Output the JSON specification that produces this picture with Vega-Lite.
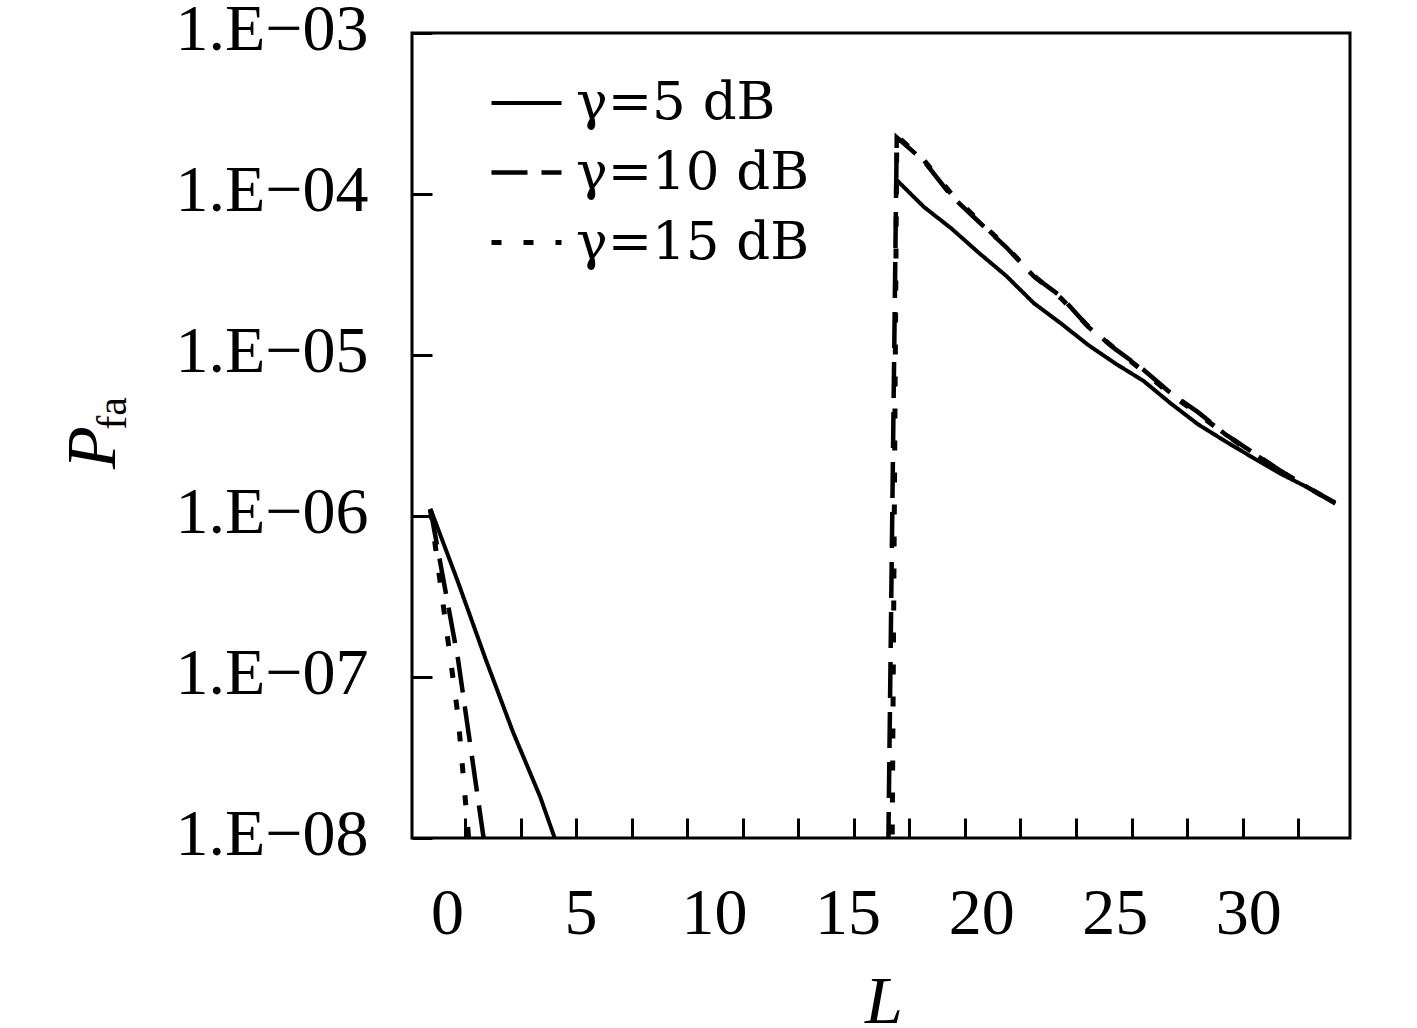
{
  "$schema": "https://vega.github.io/schema/vega-lite/v6.json",
  "width": 938,
  "height": 805,
  "autosize": {"type": "none"},
  "padding": {"left": 412, "top": 33, "right": 67, "bottom": 190},
  "background": "white",
  "config": {
    "view": {"stroke": "black", "strokeWidth": 3},
    "axis": {"grid": false, "domain": false, "labelFlush": false, "labelOverlap": false, "labelLimit": 400,
             "tickColor": "black", "tickWidth": 3, "labelColor": "black", "titleColor": "black"}
  },
  "data": {"values": [
    {"L": -0.62, "g": "γ=5 dB", "seg": "a", "p": 1.11e-6},
    {"L": 0.41, "g": "γ=5 dB", "seg": "a", "p": 3.9e-7},
    {"L": 1.44, "g": "γ=5 dB", "seg": "a", "p": 1.3e-7},
    {"L": 2.46, "g": "γ=5 dB", "seg": "a", "p": 4.6e-8},
    {"L": 3.49, "g": "γ=5 dB", "seg": "a", "p": 1.8e-8},
    {"L": 4.52, "g": "γ=5 dB", "seg": "a", "p": 5.9e-9},
    {"L": 16.84, "g": "γ=5 dB", "seg": "b", "p": 1.22e-4},
    {"L": 17.86, "g": "γ=5 dB", "seg": "b", "p": 8.3e-5},
    {"L": 18.89, "g": "γ=5 dB", "seg": "b", "p": 6.1e-5},
    {"L": 19.92, "g": "γ=5 dB", "seg": "b", "p": 4.3e-5},
    {"L": 20.94, "g": "γ=5 dB", "seg": "b", "p": 3.1e-5},
    {"L": 21.97, "g": "γ=5 dB", "seg": "b", "p": 2.1e-5},
    {"L": 22.99, "g": "γ=5 dB", "seg": "b", "p": 1.57e-5},
    {"L": 24.02, "g": "γ=5 dB", "seg": "b", "p": 1.15e-5},
    {"L": 25.05, "g": "γ=5 dB", "seg": "b", "p": 8.8e-6},
    {"L": 26.08, "g": "γ=5 dB", "seg": "b", "p": 6.9e-6},
    {"L": 27.10, "g": "γ=5 dB", "seg": "b", "p": 5.0e-6},
    {"L": 28.13, "g": "γ=5 dB", "seg": "b", "p": 3.7e-6},
    {"L": 29.16, "g": "γ=5 dB", "seg": "b", "p": 2.9e-6},
    {"L": 30.18, "g": "γ=5 dB", "seg": "b", "p": 2.3e-6},
    {"L": 31.21, "g": "γ=5 dB", "seg": "b", "p": 1.83e-6},
    {"L": 32.24, "g": "γ=5 dB", "seg": "b", "p": 1.5e-6},
    {"L": 33.26, "g": "γ=5 dB", "seg": "b", "p": 1.19e-6},

    {"L": -0.62, "g": "γ=10 dB", "seg": "a", "p": 1.1e-6},
    {"L": 0.41, "g": "γ=10 dB", "seg": "a", "p": 1.3e-7},
    {"L": 1.44, "g": "γ=10 dB", "seg": "a", "p": 8.3e-9},
    {"L": 2.46, "g": "γ=10 dB", "seg": "a", "p": 1e-18},
    {"L": 3.49, "g": "γ=10 dB", "seg": "a", "p": 1e-18},
    {"L": 4.52, "g": "γ=10 dB", "seg": "a", "p": 1e-18},
    {"L": 5.54, "g": "γ=10 dB", "seg": "a", "p": 1e-18},
    {"L": 6.57, "g": "γ=10 dB", "seg": "a", "p": 1e-18},
    {"L": 7.60, "g": "γ=10 dB", "seg": "a", "p": 1e-18},
    {"L": 8.62, "g": "γ=10 dB", "seg": "a", "p": 1e-18},
    {"L": 9.65, "g": "γ=10 dB", "seg": "a", "p": 1e-18},
    {"L": 10.68, "g": "γ=10 dB", "seg": "a", "p": 1e-18},
    {"L": 11.70, "g": "γ=10 dB", "seg": "a", "p": 1e-18},
    {"L": 12.73, "g": "γ=10 dB", "seg": "a", "p": 1e-18},
    {"L": 13.76, "g": "γ=10 dB", "seg": "a", "p": 1e-18},
    {"L": 14.78, "g": "γ=10 dB", "seg": "a", "p": 1e-18},
    {"L": 15.81, "g": "γ=10 dB", "seg": "a", "p": 1e-18},
    {"L": 16.84, "g": "γ=10 dB", "seg": "a", "p": 2.25e-4},
    {"L": 17.86, "g": "γ=10 dB", "seg": "a", "p": 1.6e-4},
    {"L": 18.89, "g": "γ=10 dB", "seg": "a", "p": 9.7e-5},
    {"L": 19.92, "g": "γ=10 dB", "seg": "a", "p": 6.7e-5},
    {"L": 20.94, "g": "γ=10 dB", "seg": "a", "p": 4.67e-5},
    {"L": 21.97, "g": "γ=10 dB", "seg": "a", "p": 3.08e-5},
    {"L": 22.99, "g": "γ=10 dB", "seg": "a", "p": 2.31e-5},
    {"L": 24.02, "g": "γ=10 dB", "seg": "a", "p": 1.49e-5},
    {"L": 25.05, "g": "γ=10 dB", "seg": "a", "p": 1.08e-5},
    {"L": 26.08, "g": "γ=10 dB", "seg": "a", "p": 8.1e-6},
    {"L": 27.10, "g": "γ=10 dB", "seg": "a", "p": 5.8e-6},
    {"L": 28.13, "g": "γ=10 dB", "seg": "a", "p": 4.4e-6},
    {"L": 29.16, "g": "γ=10 dB", "seg": "a", "p": 3.2e-6},
    {"L": 30.18, "g": "γ=10 dB", "seg": "a", "p": 2.48e-6},
    {"L": 31.21, "g": "γ=10 dB", "seg": "a", "p": 1.91e-6},
    {"L": 32.24, "g": "γ=10 dB", "seg": "a", "p": 1.5e-6},
    {"L": 33.26, "g": "γ=10 dB", "seg": "a", "p": 1.21e-6},

    {"L": -0.62, "g": "γ=15 dB", "seg": "a", "p": 1.1e-6},
    {"L": 0.41, "g": "γ=15 dB", "seg": "a", "p": 5.8e-8},
    {"L": 1.44, "g": "γ=15 dB", "seg": "a", "p": 6.4e-10},
    {"L": 2.46, "g": "γ=15 dB", "seg": "a", "p": 1e-30},
    {"L": 3.49, "g": "γ=15 dB", "seg": "a", "p": 1e-30},
    {"L": 4.52, "g": "γ=15 dB", "seg": "a", "p": 1e-30},
    {"L": 5.54, "g": "γ=15 dB", "seg": "a", "p": 1e-30},
    {"L": 6.57, "g": "γ=15 dB", "seg": "a", "p": 1e-30},
    {"L": 7.60, "g": "γ=15 dB", "seg": "a", "p": 1e-30},
    {"L": 8.62, "g": "γ=15 dB", "seg": "a", "p": 1e-30},
    {"L": 9.65, "g": "γ=15 dB", "seg": "a", "p": 1e-30},
    {"L": 10.68, "g": "γ=15 dB", "seg": "a", "p": 1e-30},
    {"L": 11.70, "g": "γ=15 dB", "seg": "a", "p": 1e-30},
    {"L": 12.73, "g": "γ=15 dB", "seg": "a", "p": 1e-30},
    {"L": 13.76, "g": "γ=15 dB", "seg": "a", "p": 1e-30},
    {"L": 14.78, "g": "γ=15 dB", "seg": "a", "p": 1e-30},
    {"L": 15.81, "g": "γ=15 dB", "seg": "a", "p": 1e-30},
    {"L": 16.84, "g": "γ=15 dB", "seg": "a", "p": 2.3e-4},
    {"L": 17.86, "g": "γ=15 dB", "seg": "a", "p": 1.62e-4},
    {"L": 18.89, "g": "γ=15 dB", "seg": "a", "p": 1.0e-4},
    {"L": 19.92, "g": "γ=15 dB", "seg": "a", "p": 6.8e-5},
    {"L": 20.94, "g": "γ=15 dB", "seg": "a", "p": 4.7e-5},
    {"L": 21.97, "g": "γ=15 dB", "seg": "a", "p": 3.1e-5},
    {"L": 22.99, "g": "γ=15 dB", "seg": "a", "p": 2.25e-5},
    {"L": 24.02, "g": "γ=15 dB", "seg": "a", "p": 1.5e-5},
    {"L": 25.05, "g": "γ=15 dB", "seg": "a", "p": 1.08e-5},
    {"L": 26.08, "g": "γ=15 dB", "seg": "a", "p": 7.9e-6},
    {"L": 27.10, "g": "γ=15 dB", "seg": "a", "p": 5.7e-6},
    {"L": 28.13, "g": "γ=15 dB", "seg": "a", "p": 4.3e-6},
    {"L": 29.16, "g": "γ=15 dB", "seg": "a", "p": 3.2e-6},
    {"L": 30.18, "g": "γ=15 dB", "seg": "a", "p": 2.45e-6},
    {"L": 31.21, "g": "γ=15 dB", "seg": "a", "p": 1.9e-6},
    {"L": 32.24, "g": "γ=15 dB", "seg": "a", "p": 1.5e-6},
    {"L": 33.26, "g": "γ=15 dB", "seg": "a", "p": 1.2e-6}
  ]},
  "layer": [
    {
      "mark": {"type": "line", "color": "black", "clip": true},
      "encoding": {
        "x": {
          "field": "L", "type": "quantitative",
          "scale": {"domain": [-1.31, 33.81], "nice": false, "zero": false},
          "axis": {
            "orient": "bottom",
            "values": [0.68, 2.76, 4.84, 6.92, 9.0, 11.08, 13.16, 15.24, 17.31, 19.39, 21.47, 23.55, 25.63, 27.71, 29.79, 31.87],
            "tickSize": -20, "labels": false, "title": null
          }
        },
        "y": {
          "field": "p", "type": "quantitative",
          "scale": {"type": "log", "domain": [1e-8, 1e-3], "nice": false},
          "axis": {
            "orient": "left",
            "values": [1e-8, 1e-7, 1e-6, 1e-5, 1e-4, 1e-3],
            "tickSize": -20,
            "labelExpr": "'1.E−0' + round(-log(datum.value) / LN10)",
            "labelFont": "Liberation Serif", "labelFontSize": 66,
            "labelPadding": 64, "labelOffset": -4, "labelBaseline": "middle",
            "title": "P",
            "titleFont": "Liberation Serif", "titleFontStyle": "italic", "titleFontWeight": "normal",
            "titleFontSize": 70, "titleAngle": 270, "titleX": -297.5, "titleY": 414,
            "titleAlign": "center", "titleBaseline": "alphabetic"
          }
        },
        "strokeDash": {
          "field": "g", "type": "nominal",
          "scale": {"domain": ["γ=5 dB", "γ=10 dB", "γ=15 dB"], "range": [[1, 0], [36, 14], [10, 22]]},
          "legend": {
            "orient": "none", "legendX": 77, "legendY": 33, "title": null,
            "symbolType": "stroke", "symbolSize": 4900, "symbolStrokeColor": "black", "symbolStrokeWidth": 4,
            "labelFont": "DejaVu Serif", "labelFontSize": 53, "labelColor": "black",
            "labelLimit": 500, "labelOffset": 12, "padding": 0, "rowPadding": 5
          }
        },
        "strokeWidth": {
          "field": "g", "type": "ordinal",
          "scale": {"domain": ["γ=5 dB", "γ=10 dB", "γ=15 dB"], "range": [4, 5, 4.5]},
          "legend": null
        },
        "detail": {"field": "seg"}
      }
    },
    {
      "mark": {"type": "line", "opacity": 0, "clip": true},
      "encoding": {
        "x": {
          "field": "L", "type": "quantitative",
          "scale": {"domain": [-1.31, 33.81], "nice": false, "zero": false},
          "axis": {
            "orient": "bottom",
            "values": [0, 5, 10, 15, 20, 25, 30],
            "ticks": false, "format": "d",
            "labelFont": "Liberation Serif", "labelFontSize": 66,
            "labelBaseline": "alphabetic", "labelPadding": 95,
            "title": "L",
            "titleFont": "Liberation Serif", "titleFontStyle": "italic", "titleFontWeight": "normal",
            "titleFontSize": 68, "titleX": 471.5, "titleY": 184,
            "titleAlign": "center", "titleBaseline": "alphabetic"
          }
        },
        "y": {
          "field": "p", "type": "quantitative",
          "scale": {"type": "log", "domain": [1e-8, 1e-3], "nice": false},
          "axis": {
            "orient": "left", "labels": false, "ticks": false,
            "title": "fa",
            "titleFont": "Liberation Serif", "titleFontWeight": "normal",
            "titleFontSize": 42, "titleAngle": 270, "titleX": -287, "titleY": 380,
            "titleAlign": "center", "titleBaseline": "alphabetic"
          }
        },
        "detail": {"field": "g"}
      }
    }
  ],
  "resolve": {"axis": {"x": "independent", "y": "independent"}}
}
